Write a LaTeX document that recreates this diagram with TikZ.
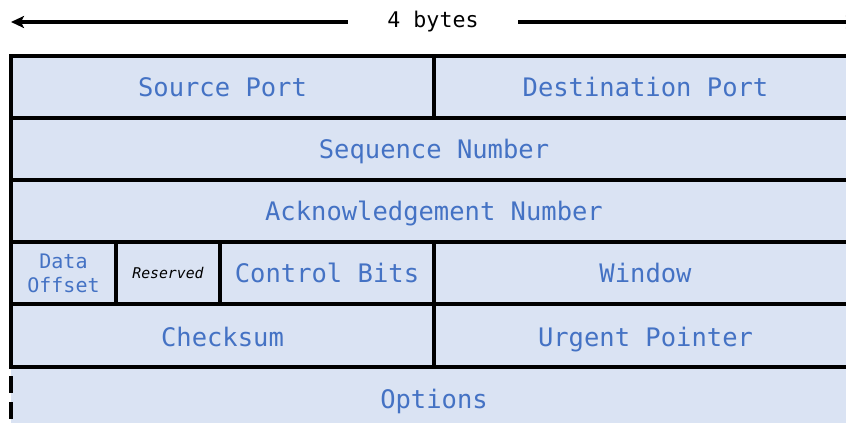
\documentclass[tikz,border=0pt]{standalone}
\usepackage{fontspec}
\setmonofont{DejaVu Sans Mono}
\usetikzlibrary{arrows.meta}
\definecolor{cellfill}{RGB}{218,227,243}
\definecolor{textblue}{RGB}{68,114,196}
\tikzset{
  cell/.style={draw=black, line width=3.4pt, fill=cellfill, inner sep=0pt, outer sep=0pt,
    anchor=north west, minimum height=62pt, text=textblue, text height=18.6pt, text depth=0pt,
    font=\ttfamily\fontsize{25.5}{28}\selectfont},
  arr/.style={line width=3.6pt, -{Stealth[length=13pt,width=12pt,inset=3pt]}}
}
\begin{document}
\begin{tikzpicture}[x=1pt, y=-1pt]
\useasboundingbox (0,0) rectangle (846,423);
\clip (0,0) rectangle (846,423);
% options row (no border except dashed left)
\node[cell, draw=none, minimum width=846pt, minimum height=66pt] (opt) at (11,367) {};
\node[text=textblue, font=\ttfamily\fontsize{25.5}{28}\selectfont, anchor=center, text height=18.6pt, text depth=0pt, inner sep=0pt] (optt) at (434,399) {Options};
\draw[line width=3.4pt, dash pattern=on 17pt off 9pt] ([yshift=-9pt]opt.north west) -- (opt.south west);
% rows
\node[cell, minimum width=423pt] (sp) at (11,56) {Source Port};
\node[cell, minimum width=423pt] (dp) at (434,56) {Destination Port};
\node[cell, minimum width=846pt] (seq) at (11,118) {Sequence Number};
\node[cell, minimum width=846pt] (ack) at (11,180) {Acknowledgement Number};
\node[cell, minimum width=105pt, align=center, text height=, text depth=, font=\ttfamily\fontsize{20}{24}\selectfont] (do) at (11,242) {Data\\Offset};
\node[cell, minimum width=104pt, text=black, text height=10.8pt, font=\ttfamily\itshape\fontsize{14.8}{17}\selectfont] (res) at (116,242) {Reserved};
\node[cell, minimum width=214pt] (cb) at (220,242) {Control Bits};
\node[cell, minimum width=423pt] (win) at (434,242) {Window};
\node[cell, minimum width=423pt, minimum height=63pt, text height=22pt] (cs) at (11,304) {Checksum};
\node[cell, minimum width=423pt, minimum height=63pt, text height=22pt] (up) at (434,304) {Urgent Pointer};
% width arrow
\node[font=\ttfamily\fontsize{21.6}{24}\selectfont, anchor=center] (bytes) at (433,22) {4 bytes};
\coordinate (lt) at (11,22);
\coordinate (rt) at (859,22);
\draw[arr] ([xshift=-36pt]bytes.west) -- (lt);
\draw[arr] ([xshift=36pt]bytes.east) -- (rt);
\end{tikzpicture}
\end{document}
